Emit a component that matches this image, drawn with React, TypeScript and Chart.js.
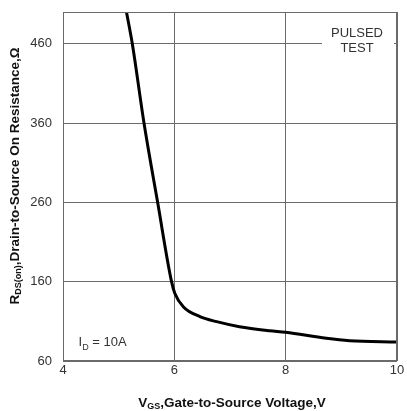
import React, { useEffect, useRef } from "react";
import { Chart, registerables } from "chart.js";

Chart.register(...registerables);

const vgs = [5.14, 5.245, 5.455, 5.7, 5.95, 6.01, 6.16, 6.46, 6.76, 7.17, 7.71, 8.0, 8.73, 9.15, 10];
const rdson = [500, 460, 360, 260, 160, 145, 128.5, 116, 109.6, 103.3, 98.2, 96.2, 88.6, 85.6, 83.8];
const xTicks = [4, 6, 8, 10];
const yTicks = [60, 160, 260, 360, 460];
const xTitle = ["V", "GS", ",Gate-to-Source Voltage,V"];
const yTitle = ["R", "DS(on)", ",Drain-to-Source On Resistance,Ω"];
const noteId = ["I", "D", " = 10A"];
const noteTest = ["PULSED", "TEST"];

const FONT = "Arial, 'Liberation Sans', sans-serif";
const GRID = "#6a6a6a";
const TEXT = "#333333";

function drawSub(ctx: CanvasRenderingContext2D, parts: string[], x: number, y: number, size: number, bold: boolean, align: "left" | "center", drop: number) {
  const w = bold ? "bold " : "";
  const big = `${w}${size}px ${FONT}`;
  const small = `${w}${Math.round(size * 0.7)}px ${FONT}`;
  ctx.font = big;
  const w0 = ctx.measureText(parts[0]).width;
  const w2 = ctx.measureText(parts[2]).width;
  ctx.font = small;
  const w1 = ctx.measureText(parts[1]).width;
  const total = w0 + w1 + w2;
  let sx = align === "center" ? x - total / 2 : x;
  ctx.textAlign = "left";
  ctx.textBaseline = "alphabetic";
  ctx.font = big;
  ctx.fillText(parts[0], sx, y);
  sx += w0;
  ctx.font = small;
  ctx.fillText(parts[1], sx, y + size * drop);
  sx += w1;
  ctx.font = big;
  ctx.fillText(parts[2], sx, y);
}

const decor = {
  id: "decor",
  afterDatasetsDraw(chart: any) {
    const { ctx, chartArea } = chart;
    const xs = chart.scales.x;
    const ys = chart.scales.y;
    ctx.save();
    ctx.fillStyle = "#ffffff";
    ctx.fillRect(322, 25, 72, 30);
    ctx.strokeStyle = GRID;
    ctx.lineWidth = 1;
    ctx.strokeRect(chartArea.left + 0.5, chartArea.top + 0.5, chartArea.right - chartArea.left - 1, chartArea.bottom - chartArea.top - 1);
    ctx.fillStyle = TEXT;
    ctx.font = `13px ${FONT}`;
    ctx.textAlign = "center";
    ctx.textBaseline = "middle";
    ctx.fillText(noteTest[0], 357, 33);
    ctx.fillText(noteTest[1], 357, 48);
    drawSub(ctx, noteId, xs.getPixelForValue(4.28), ys.getPixelForValue(78.5), 13, false, "left", 0.25);
    ctx.fillStyle = "#111111";
    drawSub(ctx, xTitle, 232, 407, 13.5, true, "center", 0.18);
    ctx.translate(19, 176);
    ctx.rotate(-Math.PI / 2);
    drawSub(ctx, yTitle, 0, 0, 13.5, true, "center", 0.15);
    ctx.restore();
  },
};

export default function App() {
  const ref = useRef<HTMLCanvasElement>(null);
  useEffect(() => {
    document.body.style.margin = "0";
    const chart = new Chart(ref.current as HTMLCanvasElement, {
      type: "scatter",
      data: {
        datasets: [
          {
            data: vgs.map((v, i) => ({ x: v, y: rdson[i] })),
            showLine: true,
            borderColor: "#000000",
            borderWidth: 3,
            pointRadius: 0,
            cubicInterpolationMode: "monotone",
          } as any,
        ],
      },
      options: {
        animation: false,
        responsive: false,
        plugins: { legend: { display: false }, tooltip: { enabled: false } },
        layout: { padding: { top: 12, right: 10, left: 0, bottom: 0 } },
        scales: {
          x: {
            type: "linear",
            min: 4,
            max: 10,
            afterBuildTicks: (s: any) => { s.ticks = xTicks.map((v) => ({ value: v })); },
            afterFit: (s: any) => { s.height = 50; s.paddingLeft = 0; s.paddingRight = 0; },
            grid: { color: GRID, lineWidth: 1, drawTicks: false },
            border: { display: false },
            ticks: { color: TEXT, font: { size: 13, family: FONT }, padding: 2, maxRotation: 0 },
          },
          y: {
            type: "linear",
            min: 60,
            max: 500,
            afterBuildTicks: (s: any) => { s.ticks = yTicks.map((v) => ({ value: v })); },
            afterFit: (s: any) => { s.width = 63; s.paddingTop = 0; s.paddingBottom = 0; },
            grid: { color: GRID, lineWidth: 1, drawTicks: false },
            border: { display: false },
            ticks: { color: TEXT, font: { size: 13, family: FONT }, padding: 11 },
          },
        },
      },
      plugins: [decor],
    });
    return () => chart.destroy();
  }, []);
  return (
    <div style={{ width: 407, height: 411 }}>
      <canvas ref={ref} width={407} height={411} style={{ display: "block" }} />
    </div>
  );
}
